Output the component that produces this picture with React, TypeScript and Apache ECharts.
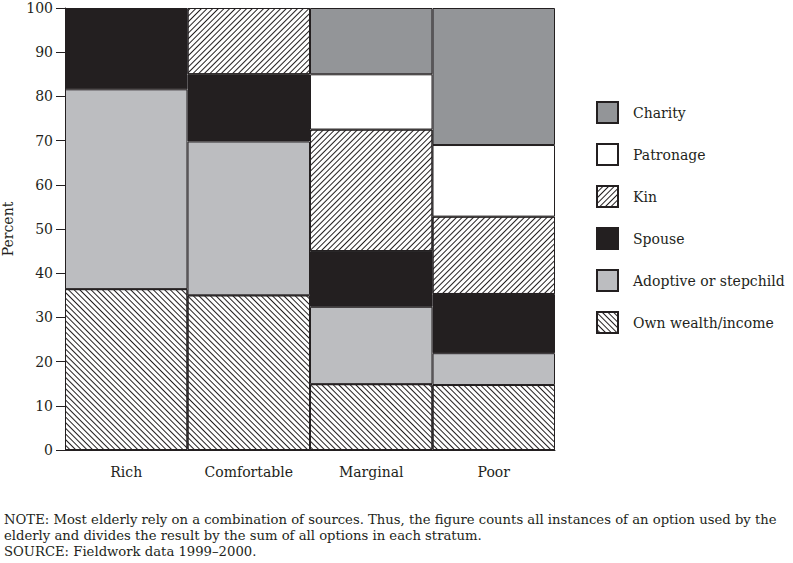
import React, { useEffect, useRef } from "react";
import * as echarts from "echarts";

const categories = ["Rich", "Comfortable", "Marginal", "Poor"];
const ownWealth = [36.4, 35.0, 14.9, 14.7];
const adoptive = [45.2, 34.8, 17.5, 7.2];
const spouse = [18.4, 15.2, 12.6, 13.4];
const kin = [0, 15.0, 27.5, 17.5];
const patronage = [0, 0, 12.5, 16.2];
const charity = [0, 0, 15.0, 31.0];
const legendOrder = ["Charity", "Patronage", "Kin", "Spouse", "Adoptive or stepchild", "Own wealth/income"];
const noteLines = [
  "NOTE: Most elderly rely on a combination of sources. Thus, the figure counts all instances of an option used by the",
  "elderly and divides the result by the sum of all options in each stratum.",
  "SOURCE: Fieldwork data 1999\u20132000.",
];

const INK = "#231f20";
const FONT = "DejaVu Serif";

export default function App() {
  const ref = useRef<HTMLDivElement>(null);
  useEffect(() => {
    document.body.style.margin = "0";
    const chart = echarts.init(ref.current!, null, { renderer: "svg" });
    const hatch = (rot: number) => ({
      symbol: "rect",
      symbolSize: 1,
      dashArrayX: [1, 0],
      dashArrayY: [1, 3],
      rotation: rot,
      color: INK,
    });
    const mk = (name: string, data: number[], color: string, decal?: any) => ({
      name,
      type: "bar",
      stack: "all",
      data: data.map((v) => (v === 0 ? null : v)),
      barCategoryGap: "0%",
      itemStyle: { color, borderColor: INK, borderWidth: 1, ...(decal ? { decal } : {}) },
    });
    chart.setOption({
      animation: false,
      textStyle: { fontFamily: FONT },
      grid: { left: 65, right: 238, top: 8, bottom: 113, containLabel: false, outerBoundsMode: "none" },
      xAxis: {
        type: "category",
        data: categories,
        axisTick: { show: false },
        axisLine: { lineStyle: { color: INK, width: 1 } },
        axisLabel: { color: INK, fontSize: 14, fontFamily: FONT, margin: 15 },
      },
      yAxis: {
        type: "value",
        min: 0,
        max: 100,
        interval: 10,
        name: "Percent",
        nameLocation: "middle",
        nameGap: 43,
        nameTextStyle: { color: INK, fontSize: 14, fontFamily: FONT },
        splitLine: { show: false },
        axisLine: { show: true, lineStyle: { color: INK, width: 1 } },
        axisTick: { show: true, length: 9, lineStyle: { color: INK } },
        axisLabel: { color: INK, fontSize: 14, fontFamily: FONT, margin: 12 },
      },
      legend: {
        orient: "vertical",
        left: 591,
        top: 96,
        itemWidth: 21,
        itemHeight: 21,
        itemGap: 19,
        icon: "rect",
        data: legendOrder,
        textStyle: { color: INK, fontSize: 14, fontFamily: FONT, padding: [0, 0, 0, 10] },
        selectedMode: false,
      },
      series: [
        mk("Own wealth/income", ownWealth, "#ffffff", hatch(Math.PI / 4)),
        mk("Adoptive or stepchild", adoptive, "#bcbdc0"),
        mk("Spouse", spouse, INK),
        mk("Kin", kin, "#ffffff", hatch(-Math.PI / 4)),
        mk("Patronage", patronage, "#ffffff"),
        mk("Charity", charity, "#939598"),
      ],
      graphic: noteLines.map((t, i) => ({
        type: "text",
        left: 4,
        top: 513 + i * 16,
        style: { text: t, fill: INK, font: "13.2px 'DejaVu Serif'" },
      })),
    });
    return () => chart.dispose();
  }, []);
  return <div ref={ref} style={{ position: "absolute", left: 0, top: 0, width: 793, height: 563 }} />;
}
